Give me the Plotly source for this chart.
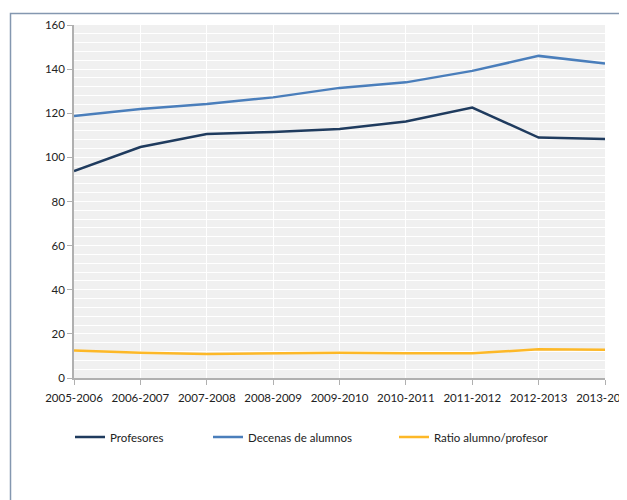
import plotly.graph_objects as go

categories = ["2005-2006", "2006-2007", "2007-2008", "2008-2009", "2009-2010",
              "2010-2011", "2011-2012", "2012-2013", "2013-2014"]
profesores = [93.8, 104.7, 110.6, 111.5, 112.9, 116.3, 122.6, 109.0, 108.3]
decenas_alumnos = [118.8, 121.9, 124.2, 127.2, 131.5, 134.0, 139.2, 146.0, 142.6]
ratio = [12.5, 11.4, 10.9, 11.1, 11.4, 11.2, 11.2, 13.0, 12.8]

FONT = "Lato"
OFF = 8  # page body margin
W, H = 627 - OFF, 500 - OFF
L, R, T, B = 74 - OFF, 22, 25 - OFF, 122
pw, ph = W - L - R, H - T - B

def px_x(px):
    return (px - OFF - L) / pw

def px_y(py):
    return 1 - (py - OFF - T) / ph

fig = go.Figure()
fig.add_trace(go.Scatter(x=categories, y=profesores, mode="lines", name="Profesores",
                         line=dict(color="#1f3b5e", width=2.5), legend="legend"))
fig.add_trace(go.Scatter(x=categories, y=decenas_alumnos, mode="lines", name="Decenas de alumnos",
                         line=dict(color="#4a7ebb", width=2.5), legend="legend2"))
fig.add_trace(go.Scatter(x=categories, y=ratio, mode="lines", name="Ratio alumno/profesor",
                         line=dict(color="#fdb827", width=2.5), legend="legend3"))

leg_common = dict(orientation="h", yanchor="middle", xanchor="left",
                  font=dict(family=FONT, size=11.5, color="#222"),
                  bgcolor="rgba(0,0,0,0)", itemwidth=30)

fig.update_layout(
    width=W, height=H,
    showlegend=True,
    margin=dict(l=L, r=R, t=T, b=B, autoexpand=False),
    paper_bgcolor="white",
    plot_bgcolor="#f0f0f0",
    font=dict(family=FONT, size=11, color="#222"),
    legend=dict(x=px_x(70), y=px_y(437), **leg_common),
    legend2=dict(x=px_x(208), y=px_y(437), **leg_common),
    legend3=dict(x=px_x(394), y=px_y(437), **leg_common),
    xaxis=dict(type="category", range=[0, 8], showgrid=True, gridcolor="white", gridwidth=1,
               showline=True, linecolor="#b0b0b0", linewidth=1.5,
               ticks="outside", ticklen=5, tickcolor="#b0b0b0", automargin=False,
               ticklabelstandoff=3,
               tickfont=dict(family=FONT, size=11.5, color="#222"), zeroline=False),
    yaxis=dict(range=[0, 160], dtick=20, showgrid=True, gridcolor="white", gridwidth=1,
               minor=dict(dtick=4, showgrid=True, gridcolor="white", gridwidth=1),
               showline=True, linecolor="#b0b0b0", linewidth=1.5,
               ticks="outside", ticklen=5, tickcolor="#b0b0b0", automargin=False,
               tickfont=dict(family=FONT, size=11.5, color="#222"), zeroline=False),
    shapes=[dict(type="rect", xref="paper", yref="paper",
                 x0=px_x(10.5), y0=-0.5, x1=1.2, y1=px_y(13.5),
                 line=dict(color="#8497b0", width=1.5), layer="below")],
)

fig.write_html("out.html")
